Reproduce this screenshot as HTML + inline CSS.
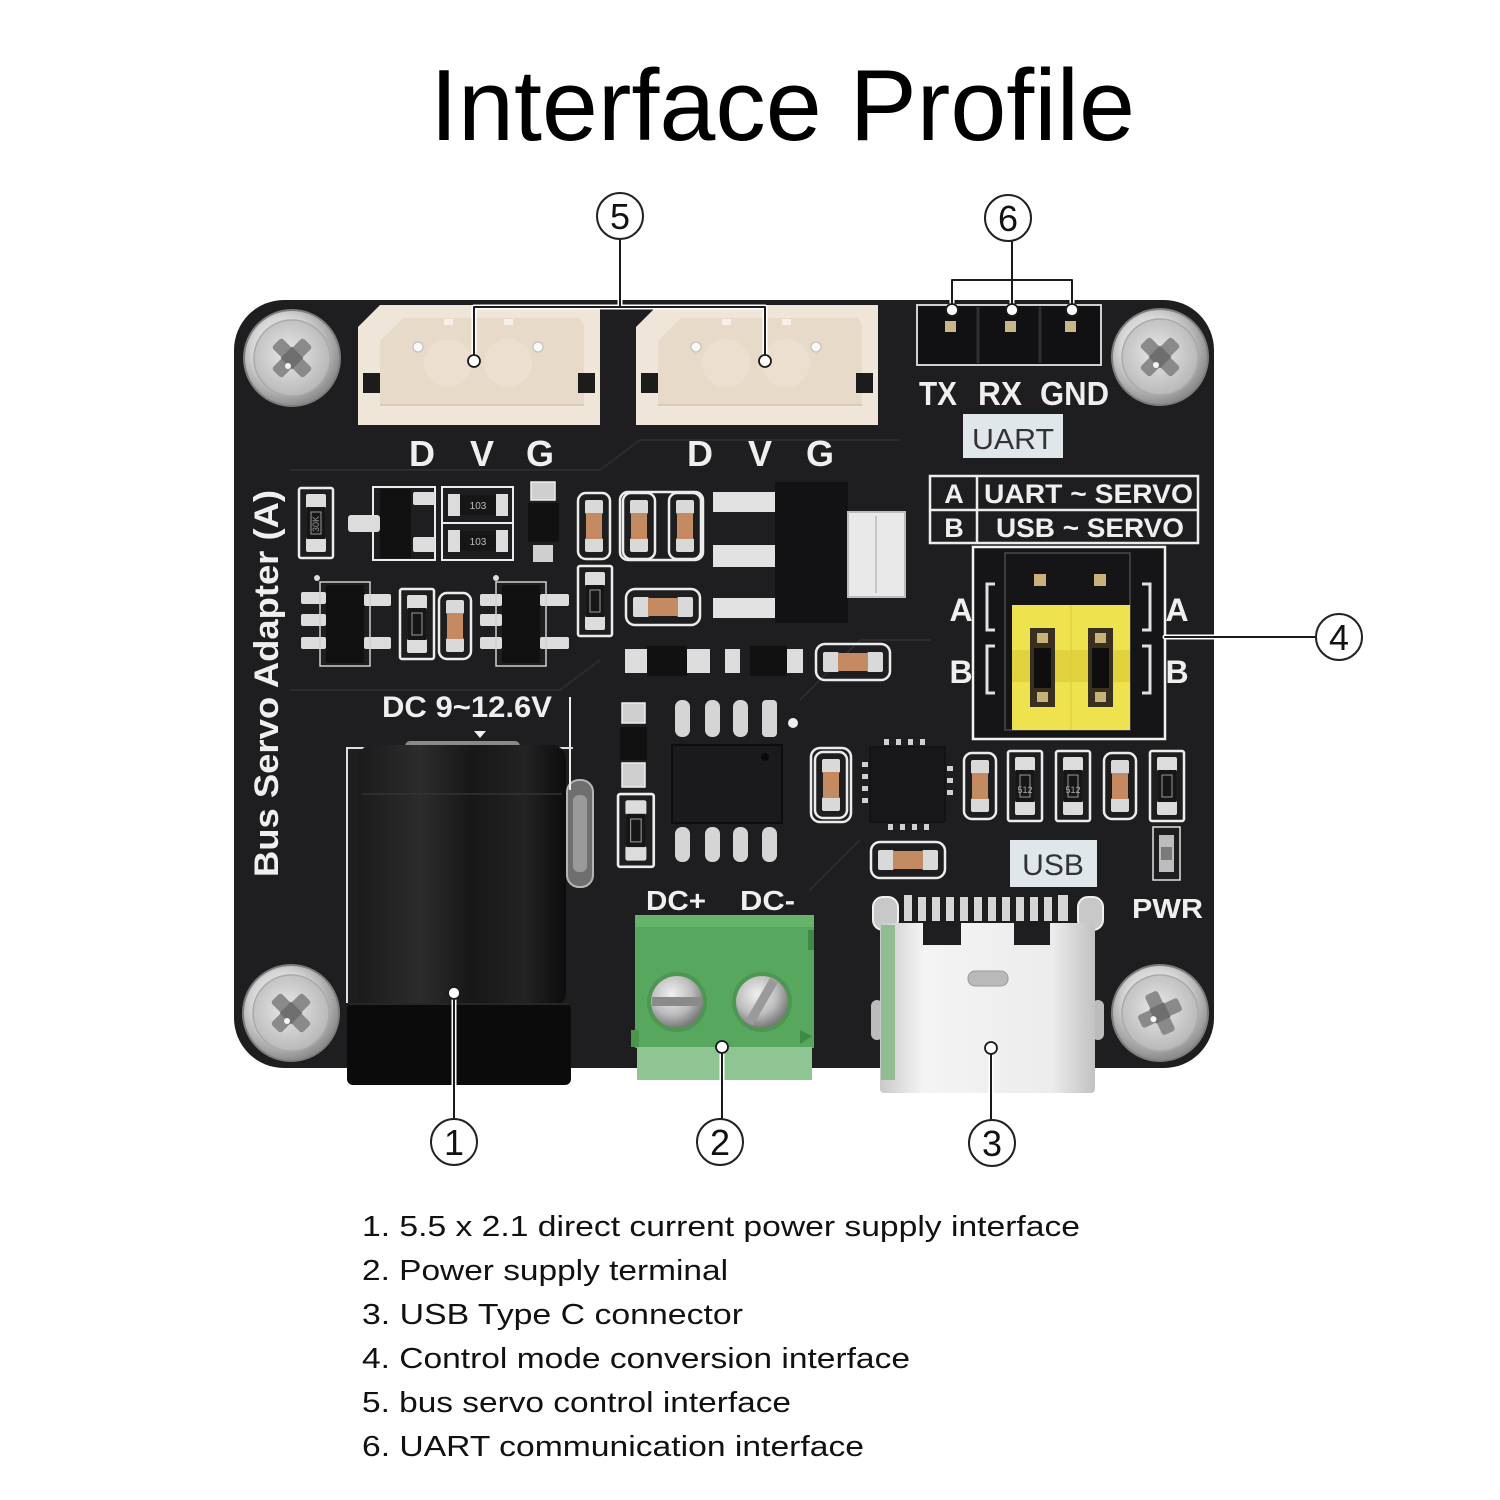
<!DOCTYPE html>
<html><head><meta charset="utf-8"><style>
html,body{margin:0;padding:0;background:#fff;}
svg{display:block;font-family:"Liberation Sans",Arial,sans-serif;}
.sk{fill:#efefef;font-weight:bold;}
</style></head><body>
<svg width="1500" height="1500" viewBox="0 0 1500 1500" xmlns="http://www.w3.org/2000/svg">
<defs>
<radialGradient id="gScrew" cx="42%" cy="40%" r="60%">
<stop offset="0" stop-color="#fbfbfb"/><stop offset="0.55" stop-color="#d6d6d6"/><stop offset="1" stop-color="#8d8d8d"/></radialGradient>
<radialGradient id="gScrewIn" cx="45%" cy="45%" r="60%">
<stop offset="0" stop-color="#e8e8e8"/><stop offset="1" stop-color="#b5b5b5"/></radialGradient>
<linearGradient id="gJack" x1="0" x2="1" y1="0" y2="0">
<stop offset="0" stop-color="#1b1b1b"/><stop offset="0.3" stop-color="#2c2c2c"/><stop offset="0.55" stop-color="#171717"/><stop offset="0.8" stop-color="#232323"/><stop offset="1" stop-color="#0c0c0c"/></linearGradient>
<linearGradient id="gUsb" x1="0" x2="1" y1="0" y2="0">
<stop offset="0" stop-color="#c9c9c9"/><stop offset="0.2" stop-color="#f4f4f4"/><stop offset="0.8" stop-color="#ececec"/><stop offset="1" stop-color="#c2c2c2"/></linearGradient>
<radialGradient id="gTs" cx="40%" cy="35%" r="65%">
<stop offset="0" stop-color="#f0f0f0"/><stop offset="0.6" stop-color="#bdbdbd"/><stop offset="1" stop-color="#7a7a7a"/></radialGradient>
<g id="screw">
<circle r="48" fill="url(#gScrew)" stroke="#7d7d7d" stroke-width="2"/>
<circle r="38" fill="url(#gScrewIn)" stroke="#a9a9a9" stroke-width="1.5"/>
<g transform="rotate(45)">
<rect x="-22" y="-7" width="44" height="14" rx="3" fill="#8a8a8a"/>
<rect x="-7" y="-22" width="14" height="44" rx="3" fill="#8a8a8a"/>
<rect x="-8" y="-8" width="16" height="16" fill="#6e6e6e"/>
</g>
<circle cx="-4" cy="8" r="3" fill="#f5f5f5"/>
</g>
<g id="capV">
<rect x="1" y="1" width="32" height="66" rx="8" fill="none" stroke="#ececec" stroke-width="2.5"/>
<rect x="8" y="8" width="18" height="14" rx="2" fill="#d9d9d9"/>
<rect x="8" y="46" width="18" height="14" rx="2" fill="#d9d9d9"/>
<rect x="9" y="21" width="16" height="26" fill="#c48a62"/>
</g>
<g id="capH">
<rect x="1" y="1" width="74" height="36" rx="9" fill="none" stroke="#ececec" stroke-width="2.5"/>
<rect x="8" y="9" width="16" height="20" rx="2" fill="#d9d9d9"/>
<rect x="52" y="9" width="16" height="20" rx="2" fill="#d9d9d9"/>
<rect x="23" y="10" width="30" height="18" fill="#c48a62"/>
</g>
<g id="resV">
<rect x="1" y="1" width="34" height="70" rx="2" fill="none" stroke="#ececec" stroke-width="2.5"/>
<rect x="8" y="7" width="20" height="14" rx="2" fill="#dcdcdc"/>
<rect x="8" y="51" width="20" height="14" rx="2" fill="#dcdcdc"/>
<rect x="9" y="20" width="18" height="32" fill="#161616"/>
<rect x="13" y="25" width="10" height="22" fill="none" stroke="#9a9a9a" stroke-width="1"/>
</g>
<g id="jst">
<path d="M22 0 H242 V120 H0 V22 Z" fill="#efe5d8"/>
<path d="M45 13 H222 L226 20 V100 H22 V36 Z" fill="#e7dac8"/>
<circle cx="90" cy="58" r="24" fill="#ebdfcf"/>
<circle cx="150" cy="58" r="24" fill="#ebdfcf"/>
<rect x="86" y="14" width="9" height="6" fill="#f7f0e6"/>
<rect x="146" y="14" width="9" height="6" fill="#f7f0e6"/>
<circle cx="60" cy="42" r="5" fill="#fafafa" stroke="#bbb" stroke-width="1"/>
<circle cx="180" cy="42" r="5" fill="#fafafa" stroke="#bbb" stroke-width="1"/>
<rect x="5" y="68" width="17" height="20" fill="#1c1c1c"/>
<rect x="220" y="68" width="17" height="20" fill="#1c1c1c"/>
<line x1="22" y1="100" x2="226" y2="100" stroke="#d9cbb8" stroke-width="2"/>
</g>
</defs>

<!-- Title -->
<text x="430" y="140" font-size="101" fill="#000" textLength="705" lengthAdjust="spacingAndGlyphs">Interface Profile</text>

<!-- Board -->
<rect x="234" y="300" width="980" height="768" rx="50" fill="#1e1e20"/>
<!-- faint traces -->
<g stroke="#2c2c2f" stroke-width="2" fill="none">
<path d="M290 470 H600 L640 440 H900"/>
<path d="M290 690 H560 L600 660"/>
<path d="M800 700 L860 640 H930"/>
<path d="M810 890 L860 840"/>
</g>

<!-- Screws -->
<use href="#screw" transform="translate(292,358)"/>
<use href="#screw" transform="translate(1160,357)"/>
<use href="#screw" transform="translate(291,1013)"/>
<use href="#screw" transform="translate(1160,1013) rotate(20)"/>

<!-- JST connectors -->
<use href="#jst" transform="translate(358,305)"/>
<use href="#jst" transform="translate(636,305)"/>

<!-- DVG labels -->
<g class="sk" font-size="36" text-anchor="middle">
<text x="422" y="466">D</text><text x="482" y="466">V</text><text x="540" y="466">G</text>
<text x="700" y="466">D</text><text x="760" y="466">V</text><text x="820" y="466">G</text>
</g>

<!-- UART header -->
<rect x="917" y="305" width="184" height="60" fill="#111113" stroke="#cfcfcf" stroke-width="2"/>
<line x1="978" y1="307" x2="978" y2="363" stroke="#2e2e30" stroke-width="3"/>
<line x1="1040" y1="307" x2="1040" y2="363" stroke="#2e2e30" stroke-width="3"/>
<rect x="945" y="321" width="11" height="11" fill="#c9b688"/>
<rect x="1005" y="321" width="11" height="11" fill="#c9b688"/>
<rect x="1065" y="321" width="11" height="11" fill="#c9b688"/>
<g class="sk" font-size="33">
<text x="919" y="405" textLength="38" lengthAdjust="spacingAndGlyphs">TX</text>
<text x="978" y="405" textLength="44" lengthAdjust="spacingAndGlyphs">RX</text>
<text x="1040" y="405" textLength="69" lengthAdjust="spacingAndGlyphs">GND</text>
</g>
<rect x="963" y="414" width="100" height="44" fill="#dfe7ea"/>
<text x="972" y="449" font-size="29" fill="#333" textLength="82" lengthAdjust="spacingAndGlyphs">UART</text>

<!-- Mode table -->
<rect x="930" y="476" width="268" height="67" fill="none" stroke="#ececec" stroke-width="2.5"/>
<line x1="977" y1="476" x2="977" y2="543" stroke="#ececec" stroke-width="2.5"/>
<line x1="930" y1="510" x2="1198" y2="510" stroke="#ececec" stroke-width="2.5"/>
<g class="sk" font-size="27">
<text x="954" y="503" text-anchor="middle">A</text>
<text x="984" y="503" textLength="209" lengthAdjust="spacingAndGlyphs">UART ~ SERVO</text>
<text x="954" y="537" text-anchor="middle">B</text>
<text x="996" y="537" textLength="188" lengthAdjust="spacingAndGlyphs">USB ~ SERVO</text>
</g>

<!-- Jumper -->
<rect x="973" y="547" width="192" height="192" fill="#151517" stroke="#f2f2f2" stroke-width="2.5"/>
<rect x="1005" y="553" width="125" height="177" fill="none" stroke="#4a4a4c" stroke-width="1.5"/>
<rect x="1034" y="574" width="12" height="12" fill="#c9b27a"/>
<rect x="1094" y="574" width="12" height="12" fill="#c9b27a"/>
<rect x="1012" y="605" width="118" height="125" fill="#efe24f"/>
<rect x="1012" y="650" width="118" height="32" fill="#e2d33e"/>
<line x1="1071" y1="605" x2="1071" y2="730" stroke="#d8ca3e" stroke-width="1"/>
<g>
<rect x="1030" y="628" width="25" height="79" fill="#3a3020"/>
<rect x="1034" y="648" width="17" height="40" fill="#0e0e0e"/>
<rect x="1037" y="633" width="11" height="10" fill="#c9b27a"/>
<rect x="1037" y="692" width="11" height="10" fill="#c9b27a"/>
<rect x="1088" y="628" width="25" height="79" fill="#3a3020"/>
<rect x="1092" y="648" width="17" height="40" fill="#0e0e0e"/>
<rect x="1095" y="633" width="11" height="10" fill="#c9b27a"/>
<rect x="1095" y="692" width="11" height="10" fill="#c9b27a"/>
</g>
<g stroke="#e0e0e0" stroke-width="3" fill="none">
<path d="M995 584 H987 V630 H995"/><path d="M995 646 H987 V693 H995"/>
<path d="M1142 584 H1150 V630 H1142"/><path d="M1142 646 H1150 V693 H1142"/>
</g>
<g class="sk" font-size="32" text-anchor="middle">
<text x="961" y="621">A</text><text x="1177" y="621">A</text>
<text x="961" y="683">B</text><text x="1177" y="683">B</text>
</g>

<!-- Left column components -->
<use href="#resV" transform="translate(298,487)"/>
<text x="316" y="527" font-size="9" fill="#999" text-anchor="middle" transform="rotate(-90 316 524)">30K</text>
<rect x="373" y="487" width="62" height="73" fill="none" stroke="#ececec" stroke-width="2"/>
<rect x="348" y="515" width="32" height="17" rx="3" fill="#dcdcdc"/>
<rect x="380" y="489" width="31" height="69" fill="#111"/>
<rect x="413" y="492" width="22" height="13" rx="2" fill="#dcdcdc"/>
<rect x="413" y="537" width="22" height="15" rx="2" fill="#dcdcdc"/>
<rect x="442" y="487" width="71" height="73" fill="none" stroke="#ececec" stroke-width="2"/>
<line x1="442" y1="523" x2="513" y2="523" stroke="#ececec" stroke-width="2"/>
<g>
<rect x="448" y="494" width="12" height="22" fill="#dcdcdc"/><rect x="496" y="494" width="12" height="22" fill="#dcdcdc"/>
<rect x="460" y="495" width="36" height="20" fill="#161616"/>
<text x="478" y="509" font-size="10" fill="#bbb" text-anchor="middle">103</text>
<rect x="448" y="530" width="12" height="22" fill="#dcdcdc"/><rect x="496" y="530" width="12" height="22" fill="#dcdcdc"/>
<rect x="460" y="531" width="36" height="20" fill="#161616"/>
<text x="478" y="545" font-size="10" fill="#bbb" text-anchor="middle">103</text>
</g>
<rect x="531" y="482" width="24" height="18" fill="#cfcfcf" stroke="#eee" stroke-width="1.5"/>
<rect x="528" y="503" width="31" height="39" fill="#111"/>
<rect x="533" y="545" width="20" height="17" fill="#cfcfcf"/>
<use href="#capV" transform="translate(577,492)"/>
<rect x="620" y="492" width="83" height="68" rx="8" fill="none" stroke="#ececec" stroke-width="2.5"/>
<use href="#capV" transform="translate(622,492)"/>
<use href="#capV" transform="translate(668,492)"/>
<!-- regulator -->
<g fill="#e2e2e2">
<rect x="713" y="492" width="62" height="20"/>
<rect x="713" y="545" width="62" height="22"/>
<rect x="713" y="598" width="62" height="20"/>
</g>
<rect x="775" y="482" width="73" height="141" fill="#121214"/>
<rect x="848" y="512" width="57" height="85" fill="#e9e9e9" stroke="#bdbdbd" stroke-width="2"/>
<line x1="876" y1="516" x2="876" y2="593" stroke="#c4c4c4" stroke-width="2"/>

<!-- second row -->
<circle cx="317" cy="578" r="3" fill="#ddd"/>
<rect x="326" y="585" width="38" height="78" fill="#111"/>
<g fill="#dcdcdc">
<rect x="301" y="592" width="25" height="12" rx="2"/><rect x="301" y="614" width="25" height="12" rx="2"/><rect x="301" y="637" width="25" height="12" rx="2"/>
<rect x="364" y="594" width="27" height="12" rx="2"/><rect x="364" y="637" width="27" height="12" rx="2"/>
</g>
<rect x="320" y="582" width="50" height="84" fill="none" stroke="#cfcfcf" stroke-width="1.5"/>
<use href="#resV" transform="translate(399,588)"/>
<use href="#capV" transform="translate(438,592)"/>
<circle cx="496" cy="578" r="3" fill="#ddd"/>
<rect x="502" y="585" width="38" height="78" fill="#111"/>
<g fill="#dcdcdc">
<rect x="480" y="594" width="22" height="12" rx="2"/><rect x="480" y="614" width="22" height="12" rx="2"/><rect x="480" y="637" width="22" height="12" rx="2"/>
<rect x="540" y="594" width="29" height="12" rx="2"/><rect x="540" y="637" width="29" height="12" rx="2"/>
</g>
<rect x="496" y="582" width="50" height="84" fill="none" stroke="#cfcfcf" stroke-width="1.5"/>
<use href="#resV" transform="translate(577,565)"/>
<use href="#capH" transform="translate(625,588)"/>
<!-- small parts row -->
<g fill="#dcdcdc">
<rect x="625" y="649" width="22" height="24"/><rect x="687" y="649" width="23" height="24"/>
<rect x="725" y="649" width="15" height="24"/><rect x="787" y="649" width="16" height="24"/>
</g>
<rect x="647" y="646" width="40" height="30" fill="#111"/>
<rect x="750" y="646" width="37" height="30" fill="#111"/>
<use href="#capH" transform="translate(815,643)"/>

<!-- SOIC-8 area -->
<rect x="622" y="703" width="23" height="20" fill="#cfcfcf" stroke="#eee" stroke-width="1.5"/>
<rect x="620" y="727" width="27" height="33" fill="#111"/>
<rect x="622" y="763" width="23" height="24" fill="#cfcfcf" stroke="#eee" stroke-width="1.5"/>
<use href="#resV" transform="translate(617,793) scale(1.05,1.04)"/>
<g fill="#d5d5d5">
<rect x="675" y="700" width="15" height="37" rx="7"/><rect x="705" y="700" width="15" height="37" rx="7"/>
<rect x="733" y="700" width="15" height="37" rx="7"/><rect x="762" y="700" width="15" height="37" rx="4"/>
<rect x="675" y="827" width="15" height="35" rx="7"/><rect x="705" y="827" width="15" height="35" rx="7"/>
<rect x="733" y="827" width="15" height="35" rx="7"/><rect x="762" y="827" width="15" height="35" rx="7"/>
</g>
<rect x="672" y="745" width="110" height="78" fill="#1a1a1c" stroke="#0d0d0d" stroke-width="2"/>
<circle cx="765" cy="757" r="4" fill="#0a0a0a"/>
<circle cx="793" cy="723" r="5" fill="#eee"/>
<rect x="567" y="780" width="26" height="107" rx="12" fill="#6f6f6f" stroke="#b5b5b5" stroke-width="2"/>
<rect x="573" y="795" width="14" height="77" rx="6" fill="#9a9a9a"/>

<!-- QFN + right row -->
<rect x="811" y="748" width="40" height="74" rx="9" fill="none" stroke="#ececec" stroke-width="2.5"/>
<use href="#capV" transform="translate(814,751)"/>
<rect x="870" y="747" width="75" height="75" fill="#18181a" stroke="#0c0c0c" stroke-width="1"/>
<g fill="#d0d0d0">
<rect x="884" y="739" width="5" height="6"/><rect x="896" y="739" width="5" height="6"/><rect x="908" y="739" width="5" height="6"/><rect x="920" y="739" width="5" height="6"/>
<rect x="888" y="824" width="5" height="6"/><rect x="900" y="824" width="5" height="6"/><rect x="912" y="824" width="5" height="6"/><rect x="924" y="824" width="5" height="6"/>
<rect x="862" y="762" width="6" height="5"/><rect x="862" y="774" width="6" height="5"/><rect x="862" y="786" width="6" height="5"/><rect x="862" y="798" width="6" height="5"/>
<rect x="947" y="766" width="6" height="5"/><rect x="947" y="778" width="6" height="5"/><rect x="947" y="790" width="6" height="5"/>
</g>
<use href="#capH" transform="translate(870,841)"/>
<use href="#capV" transform="translate(963,752)"/>
<use href="#resV" transform="translate(1007,750)"/>
<use href="#resV" transform="translate(1055,750)"/>
<use href="#capV" transform="translate(1103,752)"/>
<use href="#resV" transform="translate(1149,750)"/>
<text x="1025" y="793" font-size="9" fill="#aaa" text-anchor="middle">512</text>
<text x="1073" y="793" font-size="9" fill="#aaa" text-anchor="middle">512</text>

<!-- USB label, PWR -->
<rect x="1010" y="840" width="87" height="47" fill="#dfe7ea"/>
<text x="1053" y="875" font-size="30" fill="#333" text-anchor="middle">USB</text>
<rect x="1153" y="827" width="27" height="53" fill="none" stroke="#e0e0e0" stroke-width="1.5"/>
<rect x="1159" y="835" width="15" height="37" fill="#bdbdbd"/>
<rect x="1161" y="847" width="11" height="13" fill="#7a7a7a"/>
<text class="sk" x="1132" y="918" font-size="28" textLength="71" lengthAdjust="spacingAndGlyphs">PWR</text>

<!-- Rotated board name -->
<text class="sk" transform="translate(278,877) rotate(-90)" font-size="34" textLength="387" lengthAdjust="spacingAndGlyphs">Bus Servo Adapter (A)</text>

<!-- DC jack -->
<text class="sk" x="382" y="717" font-size="30" textLength="170" lengthAdjust="spacingAndGlyphs">DC 9~12.6V</text>
<polygon points="474,731 486,731 480,738" fill="#eee"/>
<line x1="570" y1="697" x2="570" y2="790" stroke="#eee" stroke-width="2"/>
<path d="M347 1003 V748 H400 M525 748 H573" fill="none" stroke="#dedede" stroke-width="2"/>
<rect x="405" y="741" width="115" height="10" rx="5" fill="#8a8a8a"/>
<rect x="358" y="745" width="208" height="262" rx="14" fill="url(#gJack)"/>
<line x1="362" y1="794" x2="562" y2="794" stroke="#333" stroke-width="1.5"/>
<rect x="347" y="1003" width="224" height="82" rx="6" fill="#0b0b0b"/>
<line x1="349" y1="1004" x2="569" y2="1004" stroke="#262626" stroke-width="2"/>

<!-- Terminal block -->
<g class="sk" font-size="28">
<text x="646" y="910" textLength="60" lengthAdjust="spacingAndGlyphs">DC+</text>
<text x="740" y="910" textLength="55" lengthAdjust="spacingAndGlyphs">DC-</text>
</g>
<rect x="635" y="915" width="179" height="133" fill="#58a75f"/>
<rect x="635" y="915" width="179" height="12" fill="#66b36c"/>
<rect x="808" y="930" width="6" height="20" fill="#3f8a47"/>
<rect x="631" y="1030" width="8" height="17" fill="#4a944f"/>
<polygon points="800,1030 812,1036 800,1044" fill="#3e8a45"/>
<rect x="637" y="1047" width="175" height="33" fill="#8ec592"/>
<circle cx="677" cy="1002" r="30" fill="#4d9654"/>
<circle cx="762" cy="1002" r="30" fill="#4d9654"/>
<circle cx="677" cy="1002" r="26" fill="url(#gTs)"/>
<circle cx="762" cy="1002" r="26" fill="url(#gTs)"/>
<rect x="652" y="997" width="50" height="9" fill="#8a8a8a"/>
<rect x="737" y="997" width="50" height="9" fill="#9a9a9a" transform="rotate(-60 762 1002)"/>

<!-- USB-C -->
<rect x="873" y="897" width="25" height="33" rx="10" fill="#c8c8c8" stroke="#f0f0f0" stroke-width="2"/>
<rect x="1078" y="897" width="25" height="33" rx="10" fill="#c8c8c8" stroke="#f0f0f0" stroke-width="2"/>
<g fill="#d6d6d6">
<rect x="904" y="895" width="8" height="26"/><rect x="918" y="897" width="8" height="24"/><rect x="932" y="897" width="8" height="24"/>
<rect x="946" y="897" width="8" height="24"/><rect x="960" y="897" width="8" height="24"/><rect x="974" y="897" width="8" height="24"/>
<rect x="988" y="897" width="8" height="24"/><rect x="1002" y="897" width="8" height="24"/><rect x="1016" y="897" width="8" height="24"/>
<rect x="1030" y="897" width="8" height="24"/><rect x="1044" y="897" width="8" height="24"/><rect x="1058" y="895" width="10" height="26"/>
</g>
<rect x="871" y="1000" width="12" height="40" rx="6" fill="#bcbcbc"/>
<rect x="1092" y="1000" width="12" height="40" rx="6" fill="#bcbcbc"/>
<rect x="880" y="923" width="215" height="170" rx="4" fill="url(#gUsb)"/>
<rect x="881" y="925" width="14" height="155" fill="#86b886" opacity="0.85"/>
<rect x="923" y="923" width="38" height="22" fill="#1e1e20"/>
<rect x="1014" y="923" width="36" height="22" fill="#1e1e20"/>
<rect x="968" y="971" width="40" height="15" rx="7" fill="#b9b9b9" stroke="#9a9a9a" stroke-width="1"/>

<!-- Callouts -->
<g fill="none" stroke-linecap="round">
<g stroke="#fff" stroke-width="5">
<path d="M620 240 V307 M474 307 H765 M474 307 V356 M765 307 V356"/>
<path d="M1012 242 V280 M952 280 H1072 M952 280 V304 M1012 280 V304 M1072 280 V304"/>
<path d="M1165 637 H1315"/>
<path d="M454 999 V1119 M722 1053 V1119 M991 1054 V1119"/>
</g>
<g stroke="#1a1a1a" stroke-width="2">
<path d="M620 240 V307 M474 307 H765 M474 307 V356 M765 307 V356"/>
<path d="M1012 242 V280 M952 280 H1072 M952 280 V304 M1012 280 V304 M1072 280 V304"/>
<path d="M1165 637 H1315"/>
<path d="M454 999 V1119 M722 1053 V1119 M991 1054 V1119"/>
</g>
</g>
<g fill="#fff" stroke="#1a1a1a" stroke-width="1.8">
<circle cx="474" cy="361" r="6"/><circle cx="765" cy="361" r="6"/>
<circle cx="952" cy="310" r="6"/><circle cx="1012" cy="310" r="6"/><circle cx="1072" cy="310" r="6"/>
<circle cx="454" cy="993" r="6"/><circle cx="722" cy="1047" r="6"/><circle cx="991" cy="1048" r="6"/>
</g>
<g fill="#fff" stroke="#222" stroke-width="2">
<circle cx="620" cy="216" r="23"/><circle cx="1008" cy="218" r="23"/><circle cx="1339" cy="637" r="23"/>
<circle cx="454" cy="1142" r="23"/><circle cx="720" cy="1142" r="23"/><circle cx="992" cy="1143" r="23"/>
</g>
<g font-size="36" fill="#111" text-anchor="middle">
<text x="620" y="229">5</text><text x="1008" y="231">6</text><text x="1339" y="650">4</text>
<text x="454" y="1155">1</text><text x="720" y="1155">2</text><text x="992" y="1156">3</text>
</g>

<!-- List -->
<g font-size="29" fill="#111">
<text x="362" y="1236" textLength="718" lengthAdjust="spacingAndGlyphs">1. 5.5 x 2.1 direct current power supply interface</text>
<text x="362" y="1280" textLength="366" lengthAdjust="spacingAndGlyphs">2. Power supply terminal</text>
<text x="362" y="1324" textLength="381" lengthAdjust="spacingAndGlyphs">3. USB Type C connector</text>
<text x="362" y="1368" textLength="548" lengthAdjust="spacingAndGlyphs">4. Control mode conversion interface</text>
<text x="362" y="1412" textLength="429" lengthAdjust="spacingAndGlyphs">5. bus servo control interface</text>
<text x="362" y="1456" textLength="502" lengthAdjust="spacingAndGlyphs">6. UART communication interface</text>
</g>
</svg>
</body></html>
